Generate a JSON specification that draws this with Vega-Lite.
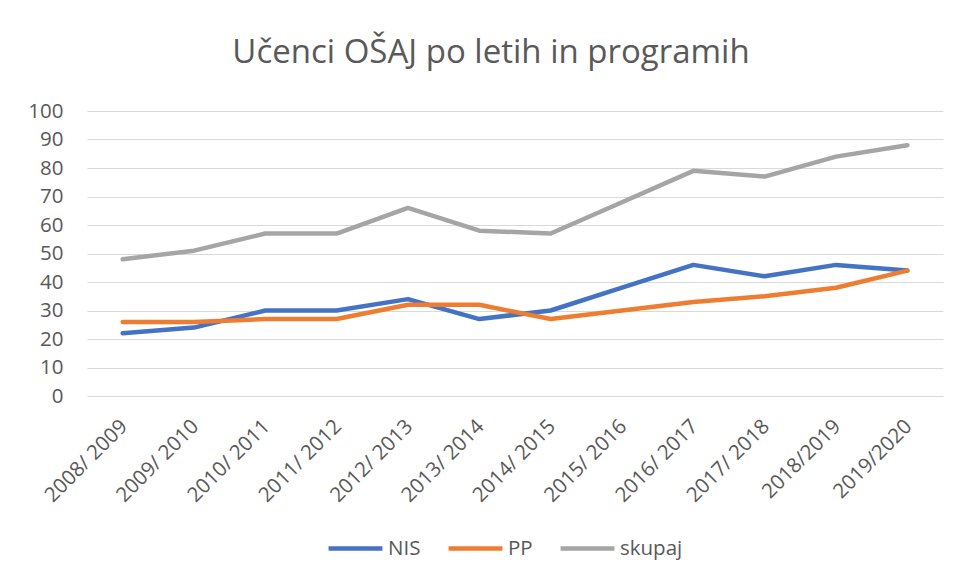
{
  "$schema": "https://vega.github.io/schema/vega-lite/v6.json",
  "autosize": "none",
  "width": 856,
  "height": 285,
  "padding": {"left": 87, "top": 111, "right": 15, "bottom": 190},
  "background": "white",
  "title": {
    "text": "Učenci OŠAJ po letih in programih",
    "font": "Open Sans",
    "fontSize": 33,
    "fontWeight": "normal",
    "color": "#595959",
    "anchor": "middle",
    "dx": -24,
    "offset": 31
  },
  "data": {
    "values": [
      {"leto": "2008/ 2009", "serija": "NIS", "vrednost": 22},
      {"leto": "2009/ 2010", "serija": "NIS", "vrednost": 24},
      {"leto": "2010/ 2011", "serija": "NIS", "vrednost": 30},
      {"leto": "2011/ 2012", "serija": "NIS", "vrednost": 30},
      {"leto": "2012/ 2013", "serija": "NIS", "vrednost": 34},
      {"leto": "2013/ 2014", "serija": "NIS", "vrednost": 27},
      {"leto": "2014/ 2015", "serija": "NIS", "vrednost": 30},
      {"leto": "2015/ 2016", "serija": "NIS", "vrednost": 38},
      {"leto": "2016/ 2017", "serija": "NIS", "vrednost": 46},
      {"leto": "2017/ 2018", "serija": "NIS", "vrednost": 42},
      {"leto": "2018/2019", "serija": "NIS", "vrednost": 46},
      {"leto": "2019/2020", "serija": "NIS", "vrednost": 44},
      {"leto": "2008/ 2009", "serija": "PP", "vrednost": 26},
      {"leto": "2009/ 2010", "serija": "PP", "vrednost": 26},
      {"leto": "2010/ 2011", "serija": "PP", "vrednost": 27},
      {"leto": "2011/ 2012", "serija": "PP", "vrednost": 27},
      {"leto": "2012/ 2013", "serija": "PP", "vrednost": 32},
      {"leto": "2013/ 2014", "serija": "PP", "vrednost": 32},
      {"leto": "2014/ 2015", "serija": "PP", "vrednost": 27},
      {"leto": "2015/ 2016", "serija": "PP", "vrednost": 30},
      {"leto": "2016/ 2017", "serija": "PP", "vrednost": 33},
      {"leto": "2017/ 2018", "serija": "PP", "vrednost": 35},
      {"leto": "2018/2019", "serija": "PP", "vrednost": 38},
      {"leto": "2019/2020", "serija": "PP", "vrednost": 44},
      {"leto": "2008/ 2009", "serija": "skupaj", "vrednost": 48},
      {"leto": "2009/ 2010", "serija": "skupaj", "vrednost": 51},
      {"leto": "2010/ 2011", "serija": "skupaj", "vrednost": 57},
      {"leto": "2011/ 2012", "serija": "skupaj", "vrednost": 57},
      {"leto": "2012/ 2013", "serija": "skupaj", "vrednost": 66},
      {"leto": "2013/ 2014", "serija": "skupaj", "vrednost": 58},
      {"leto": "2014/ 2015", "serija": "skupaj", "vrednost": 57},
      {"leto": "2015/ 2016", "serija": "skupaj", "vrednost": 68},
      {"leto": "2016/ 2017", "serija": "skupaj", "vrednost": 79},
      {"leto": "2017/ 2018", "serija": "skupaj", "vrednost": 77},
      {"leto": "2018/2019", "serija": "skupaj", "vrednost": 84},
      {"leto": "2019/2020", "serija": "skupaj", "vrednost": 88}
    ]
  },
  "mark": {"type": "line", "strokeWidth": 4.5, "strokeCap": "round", "strokeJoin": "round"},
  "encoding": {
    "x": {
      "field": "leto",
      "type": "ordinal",
      "sort": null,
      "scale": {"type": "point", "padding": 0.5},
      "axis": {
        "title": null,
        "domain": false,
        "ticks": false,
        "grid": false,
        "labelAngle": -45,
        "labelFont": "Open Sans",
        "labelFontSize": 20.5,
        "labelColor": "#595959",
        "labelPadding": 20,
        "labelOffset": -6
      }
    },
    "y": {
      "field": "vrednost",
      "type": "quantitative",
      "scale": {"domain": [0, 100], "nice": false},
      "axis": {
        "title": null,
        "values": [0, 10, 20, 30, 40, 50, 60, 70, 80, 90, 100],
        "domain": false,
        "ticks": false,
        "grid": true,
        "gridColor": "#d9d9d9",
        "gridWidth": 1.2,
        "labelFont": "Open Sans",
        "labelFontSize": 20.5,
        "labelColor": "#595959",
        "labelPadding": 24
      }
    },
    "color": {
      "field": "serija",
      "type": "nominal",
      "scale": {"domain": ["NIS", "PP", "skupaj"], "range": ["#4472C4", "#ED7D31", "#A5A5A5"]},
      "legend": {
        "title": null,
        "orient": "none",
        "legendX": 239,
        "legendY": 408,
        "direction": "horizontal",
        "symbolType": "stroke",
        "symbolSize": 2900,
        "symbolStrokeWidth": 4.5,
        "labelFont": "Open Sans",
        "labelFontSize": 20.5,
        "labelColor": "#595959",
        "labelOffset": 3,
        "columnPadding": 18
      }
    }
  },
  "config": {"view": {"stroke": null}}
}
